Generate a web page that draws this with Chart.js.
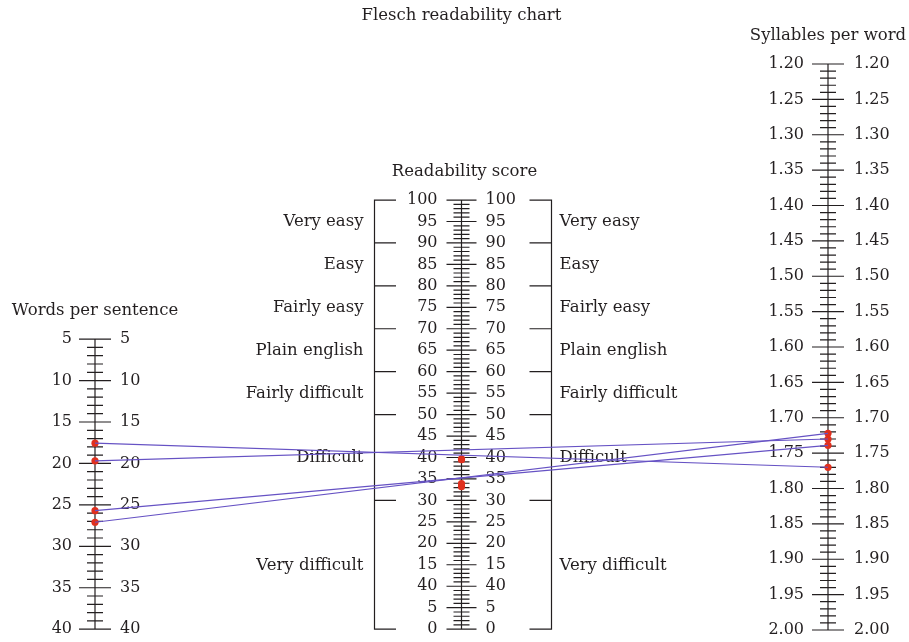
<!DOCTYPE html>
<html>
<head>
<meta charset="utf-8">
<script src="https://cdn.jsdelivr.net/npm/chart.js@4.4.1/dist/chart.umd.min.js"></script>
<style>
  html, body { margin: 0; padding: 0; background: #fff; }
  #chart { display: block; }
</style>
</head>
<body>
<canvas id="chart" width="909" height="642"></canvas>
<script>
// values (four worked examples)
var wordsPerSentence = [17.55, 19.7, 25.7, 27.1];
var syllablesPerWord = [1.770, 1.730, 1.739, 1.722];
var readabilityScore = [39.7, 39.5, 33.2, 33.9];

// axis tick labels
var wordTicks = [5, 10, 15, 20, 25, 30, 35, 40];
var scoreTicks = [100, 95, 90, 85, 80, 75, 70, 65, 60, 55, 50, 45, 40, 35, 30, 25, 20, 15, 10, 5, 0];
var scoreTickLabels = ['100', '95', '90', '85', '80', '75', '70', '65', '60', '55', '50', '45', '40', '35', '30', '25', '20', '15', '40', '5', '0'];
var syllableTicks = [1.20, 1.25, 1.30, 1.35, 1.40, 1.45, 1.50, 1.55, 1.60, 1.65, 1.70, 1.75, 1.80, 1.85, 1.90, 1.95, 2.00];

// readability bands
var bandNames = ['Very easy', 'Easy', 'Fairly easy', 'Plain english', 'Fairly difficult', 'Difficult', 'Very difficult'];
var bandEdges = [100, 90, 80, 70, 60, 50, 30, 0];

var FONT = '"DejaVu Serif", "Liberation Serif", serif';
var INK = '#231f20';
var W_MIN = -28.2, W_MAX = 40.1;
var S_MIN = 1.2, S_MAX = 2.0;
var R_MIN = -0.2, R_MAX = 131.7;

// words value -> syllable axis units (same pixel height)
function wordsOnSyl(w) {
  var f = (w - W_MIN) / (W_MAX - W_MIN);
  return S_MIN + f * (S_MAX - S_MIN);
}

function drawScale(ctx, scale, x, majors, labels, minors, opt) {
  ctx.strokeStyle = INK;
  ctx.lineWidth = 1.2;
  ctx.beginPath();
  ctx.moveTo(x, scale.getPixelForValue(majors[0]));
  ctx.lineTo(x, scale.getPixelForValue(majors[majors.length - 1]));
  minors.forEach(function (v) {
    var y = scale.getPixelForValue(v);
    ctx.moveTo(x - opt.minor, y);
    ctx.lineTo(x + opt.minor, y);
  });
  majors.forEach(function (v) {
    var y = scale.getPixelForValue(v);
    ctx.moveTo(x - opt.major, y);
    ctx.lineTo(x + opt.major, y);
  });
  ctx.stroke();

  ctx.fillStyle = INK;
  ctx.font = '16px ' + FONT;
  ctx.textBaseline = 'middle';
  majors.forEach(function (v, i) {
    var y = scale.getPixelForValue(v);
    ctx.textAlign = 'right';
    ctx.fillText(labels[i], x - opt.gapL, y);
    ctx.textAlign = 'left';
    ctx.fillText(labels[i], x + opt.gapR, y);
  });

  ctx.font = '16.5px ' + FONT;
  ctx.textAlign = 'center';
  ctx.fillText(opt.title, x + (opt.titleDx || 0), scale.getPixelForValue(majors[0]) - 28);
}

var nomogram = {
  id: 'nomogram',
  beforeDatasetsDraw: function (chart) {
    var ctx = chart.ctx;
    var sc = chart.scales;
    var i;
    ctx.save();

    var wMinor = [];
    for (i = 5; i <= 40; i++) wMinor.push(i);
    drawScale(ctx, sc.yW, sc.x.getPixelForValue(0), wordTicks,
      wordTicks.map(String), wMinor,
      { minor: 8, major: 16, gapL: 23, gapR: 25, title: 'Words per sentence' });

    var rMinor = [];
    for (i = 0; i <= 100; i++) rMinor.push(i);
    var xm = sc.x.getPixelForValue(1);
    drawScale(ctx, sc.yR, xm, scoreTicks, scoreTickLabels, rMinor,
      { minor: 8, major: 15, gapL: 24, gapR: 24, title: 'Readability score', titleDx: 3 });

    var sMinor = [];
    for (i = 120; i <= 200; i++) sMinor.push(i / 100);
    drawScale(ctx, sc.yS, sc.x.getPixelForValue(2), syllableTicks,
      syllableTicks.map(function (t) { return t.toFixed(2); }), sMinor,
      { minor: 8, major: 16, gapL: 24, gapR: 26, title: 'Syllables per word' });

    // band brackets on both sides of the score scale
    var y0 = sc.yR.getPixelForValue(bandEdges[0]);
    var y1 = sc.yR.getPixelForValue(bandEdges[bandEdges.length - 1]);
    ctx.lineWidth = 1.2;
    ctx.beginPath();
    ctx.moveTo(xm - 87, y0); ctx.lineTo(xm - 87, y1);
    ctx.moveTo(xm + 90, y0); ctx.lineTo(xm + 90, y1);
    bandEdges.forEach(function (e) {
      var y = sc.yR.getPixelForValue(e);
      ctx.moveTo(xm - 87.6, y); ctx.lineTo(xm - 65.5, y);
      ctx.moveTo(xm + 68, y); ctx.lineTo(xm + 90.6, y);
    });
    ctx.stroke();

    ctx.font = '16.5px ' + FONT;
    ctx.textBaseline = 'alphabetic';
    bandNames.forEach(function (name, k) {
      var mid = (bandEdges[k] + bandEdges[k + 1]) / 2;
      var y = sc.yR.getPixelForValue(mid) + 5;
      ctx.textAlign = 'right';
      ctx.fillText(name, xm - 98, y);
      ctx.textAlign = 'left';
      ctx.fillText(name, xm + 98, y);
    });
    ctx.restore();
  }
};

var purple = '#6652c4';
var red = '#e0301e';
var datasets = [];
for (var k = 0; k < wordsPerSentence.length; k++) {
  datasets.push({
    type: 'line',
    data: [{ x: 0, y: wordsOnSyl(wordsPerSentence[k]) }, { x: 2, y: syllablesPerWord[k] }],
    yAxisID: 'yS',
    borderColor: purple,
    borderWidth: 1.2,
    pointRadius: 0,
    fill: false,
    clip: false
  });
}
datasets.push({
  data: wordsPerSentence.map(function (w) { return { x: 0, y: w }; }),
  yAxisID: 'yW', backgroundColor: red, borderWidth: 0, pointRadius: 3.6, clip: false
});
datasets.push({
  data: readabilityScore.map(function (r) { return { x: 1, y: r }; }),
  yAxisID: 'yR', backgroundColor: red, borderWidth: 0, pointRadius: 3.6, clip: false
});
datasets.push({
  data: syllablesPerWord.map(function (s) { return { x: 2, y: s }; }),
  yAxisID: 'yS', backgroundColor: red, borderWidth: 0, pointRadius: 3.6, clip: false
});

new Chart(document.getElementById('chart'), {
  type: 'scatter',
  data: { datasets: datasets },
  options: {
    responsive: false,
    animation: false,
    devicePixelRatio: 1,
    layout: { padding: { left: 95, right: 81, top: 0, bottom: 12 } },
    scales: {
      x: { type: 'linear', min: 0, max: 2, display: false },
      yW: { type: 'linear', min: W_MIN, max: W_MAX, reverse: true, display: false },
      yR: { type: 'linear', min: R_MIN, max: R_MAX, display: false },
      yS: { type: 'linear', min: S_MIN, max: S_MAX, reverse: true, display: false }
    },
    plugins: {
      legend: { display: false },
      tooltip: { enabled: false },
      title: {
        display: true,
        text: 'Flesch readability chart',
        color: INK,
        font: { family: FONT, size: 16.5, weight: 'normal' },
        padding: { top: 6, bottom: 38.2 }
      }
    }
  },
  plugins: [nomogram]
});
</script>
</body>
</html>
